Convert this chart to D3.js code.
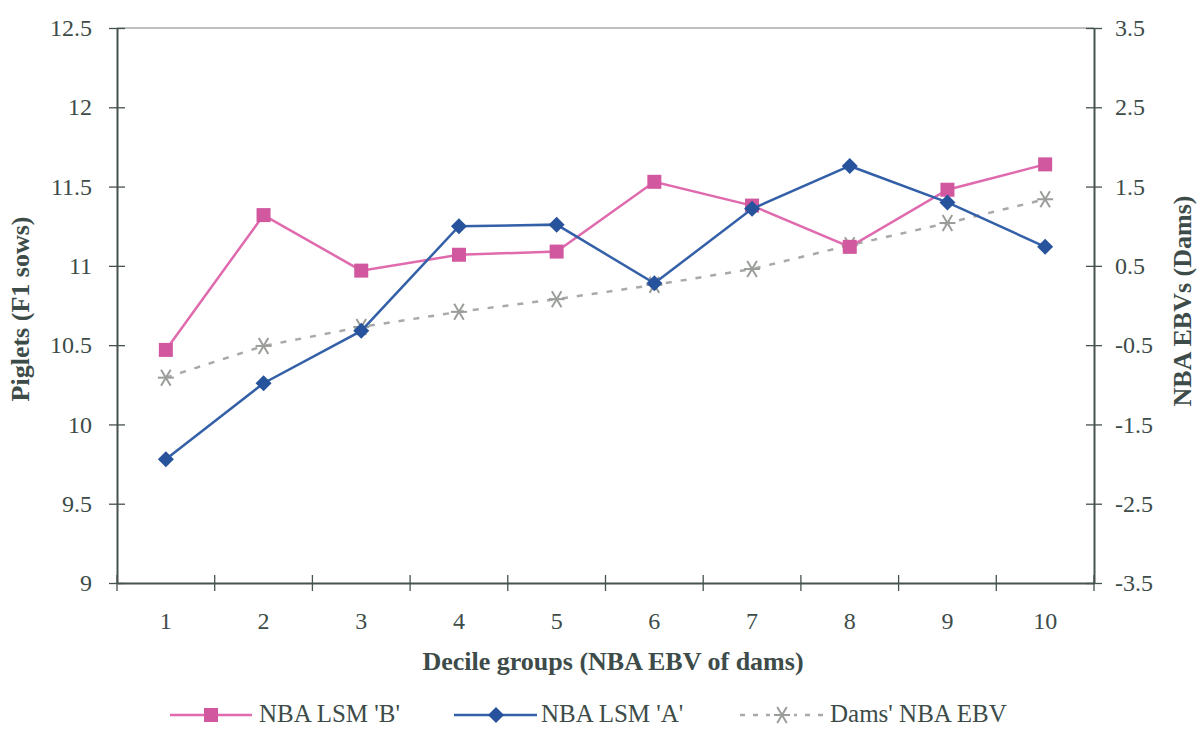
<!DOCTYPE html>
<html><head><meta charset="utf-8">
<script src="https://cdn.jsdelivr.net/npm/d3@7"></script>
<style>body{margin:0;background:#fff;} svg{display:block;}</style>
</head><body>
<svg id="chart" width="1197" height="729"></svg>
<script>
const categories = ["1","2","3","4","5","6","7","8","9","10"];
const lsmB = [10.47, 11.32, 10.97, 11.07, 11.09, 11.53, 11.38, 11.12, 11.48, 11.64];
const lsmA = [9.78, 10.26, 10.59, 11.25, 11.26, 10.89, 11.36, 11.63, 11.40, 11.12];
const damsEBV = [-0.91, -0.51, -0.27, -0.08, 0.08, 0.26, 0.46, 0.76, 1.04, 1.34];
const leftTicks = [9, 9.5, 10, 10.5, 11, 11.5, 12, 12.5];
const rightTicks = [-3.5, -2.5, -1.5, -0.5, 0.5, 1.5, 2.5, 3.5];

const svg = d3.select("#chart").style("font-family", '"Liberation Serif"');
const L = 117, R = 1094, T = 28, B = 583;
const txt = "#3d4b49", axisCol = "#46524f";
const FONT = '"Liberation Serif"';

const x = d3.scaleBand().domain(categories).range([L, R]);
const yL = d3.scaleLinear().domain([9, 12.5]).range([B, T]);
const yR = d3.scaleLinear().domain([-3.5, 3.5]).range([B, T]);
const cx = c => x(c) + x.bandwidth() / 2;

// top border
svg.append("line").attr("x1", L).attr("x2", R).attr("y1", T).attr("y2", T)
  .attr("stroke", "#a9adab").attr("stroke-width", 1.5);

function styleAxis(g) {
  g.attr("font-family", null).attr("font-size", null);
  g.select(".domain").attr("stroke", axisCol).attr("stroke-width", 2);
  g.selectAll(".tick text").style("font-family", FONT).style("font-size", "24px").attr("fill", txt);
}

// left axis
const gl = svg.append("g").attr("transform", `translate(${L},0)`)
  .call(d3.axisLeft(yL).tickValues(leftTicks).tickSize(0).tickPadding(25).tickFormat(d => String(d)));
styleAxis(gl);
gl.selectAll(".tick").append("line").attr("x1", -8).attr("x2", 8).attr("stroke", axisCol).attr("stroke-width", 1.3);

// right axis
const gr = svg.append("g").attr("transform", `translate(${R},0)`)
  .call(d3.axisRight(yR).tickValues(rightTicks).tickSize(0).tickPadding(21).tickFormat(d => String(d)));
styleAxis(gr);
gr.selectAll(".tick").append("line").attr("x1", -8).attr("x2", 8).attr("stroke", axisCol).attr("stroke-width", 1.3);

// bottom axis
const gb = svg.append("g").attr("transform", `translate(0,${B})`)
  .call(d3.axisBottom(x).tickSize(0).tickPadding(29));
styleAxis(gb);
const bounds = categories.map(c => x(c)).concat([R]);
gb.selectAll(".btick").data(bounds).enter().append("line")
  .attr("x1", d => d).attr("x2", d => d).attr("y1", -8).attr("y2", 8)
  .attr("stroke", axisCol).attr("stroke-width", 1.3);

// axis titles
svg.append("text").attr("transform", `translate(29,309) rotate(-90)`)
  .attr("text-anchor", "middle").style("font-family", FONT).style("font-weight", "bold")
  .style("font-size", "26px").attr("fill", txt).text("Piglets  (F1 sows)");
svg.append("text").attr("transform", `translate(1191,301) rotate(-90)`)
  .attr("text-anchor", "middle").style("font-family", FONT).style("font-weight", "bold")
  .style("font-size", "26px").attr("fill", txt).text("NBA EBVs  (Dams)");
svg.append("text").attr("x", 613).attr("y", 670)
  .attr("text-anchor", "middle").style("font-family", FONT).style("font-weight", "bold")
  .style("font-size", "26px").attr("fill", txt).text("Decile groups (NBA EBV of dams)");

const pink = "#e06aae", pinkM = "#d1589f", blue = "#3460a8", blueM = "#27529c", gray = "#a8aaa7", grayM = "#9a9d9a";

function asterisk(g, px, py, s, col) {
  const a = g.append("g").attr("transform", `translate(${px},${py})`).attr("stroke", col).attr("stroke-width", 2);
  a.append("line").attr("x1", -s).attr("x2", s).attr("y1", 0).attr("y2", 0);
  a.append("line").attr("x1", -s * 0.6).attr("x2", s * 0.6).attr("y1", -s).attr("y2", s);
  a.append("line").attr("x1", s * 0.6).attr("x2", -s * 0.6).attr("y1", -s).attr("y2", s);
}

// Dams' EBV (dashed, right axis)
const lineR = d3.line().x((d, i) => cx(categories[i])).y(d => yR(d));
svg.append("path").datum(damsEBV).attr("d", lineR).attr("fill", "none")
  .attr("stroke", gray).attr("stroke-width", 2.5).attr("stroke-dasharray", "6,9");
const gDam = svg.append("g");
damsEBV.forEach((d, i) => asterisk(gDam, cx(categories[i]), yR(d), 8, grayM));

// LSM B
const lineL = d3.line().x((d, i) => cx(categories[i])).y(d => yL(d));
svg.append("path").datum(lsmB).attr("d", lineL).attr("fill", "none").attr("stroke", pink).attr("stroke-width", 2.5);
svg.selectAll(".mB").data(lsmB).enter().append("rect")
  .attr("x", (d, i) => cx(categories[i]) - 7).attr("y", d => yL(d) - 7)
  .attr("width", 14).attr("height", 14).attr("fill", pinkM);

// LSM A
svg.append("path").datum(lsmA).attr("d", lineL).attr("fill", "none").attr("stroke", blue).attr("stroke-width", 2.5);
svg.selectAll(".mA").data(lsmA).enter().append("path")
  .attr("d", (d, i) => { const px = cx(categories[i]), py = yL(d); return `M${px},${py - 8}L${px + 8},${py}L${px},${py + 8}L${px - 8},${py}Z`; })
  .attr("fill", blueM);

// legend
const ly = 715;
const lg = svg.append("g");
lg.append("line").attr("x1", 170).attr("x2", 252).attr("y1", ly).attr("y2", ly).attr("stroke", pink).attr("stroke-width", 2.5);
lg.append("rect").attr("x", 204).attr("y", ly - 7).attr("width", 14).attr("height", 14).attr("fill", pinkM);
lg.append("text").attr("x", 259).attr("y", 722).style("font-family", FONT).style("font-size", "25px").attr("fill", txt).text("NBA LSM 'B'");
lg.append("line").attr("x1", 454).attr("x2", 537).attr("y1", ly).attr("y2", ly).attr("stroke", blue).attr("stroke-width", 2.5);
lg.append("path").attr("d", `M496,${ly - 8}L504,${ly}L496,${ly + 8}L488,${ly}Z`).attr("fill", blueM);
lg.append("text").attr("x", 541).attr("y", 722).style("font-family", FONT).style("font-size", "25px").attr("fill", txt).text("NBA LSM 'A'");
lg.append("line").attr("x1", 740).attr("x2", 828).attr("y1", ly).attr("y2", ly).attr("stroke", gray).attr("stroke-width", 2.5).attr("stroke-dasharray", "5,8");
lg.append("rect").attr("x", 770).attr("y", ly - 10).attr("width", 24).attr("height", 20).attr("fill", "#fff");
asterisk(lg, 782, ly, 8, grayM);
lg.append("text").attr("x", 830).attr("y", 722).style("font-family", FONT).style("font-size", "25px").attr("fill", txt).text("Dams' NBA EBV");
</script>
</body></html>
